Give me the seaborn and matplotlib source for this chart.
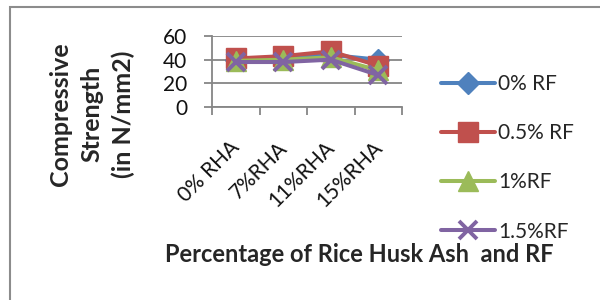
import matplotlib
matplotlib.use("Agg")
import matplotlib.pyplot as plt
import matplotlib.transforms as mtransforms
import seaborn as sns
import pandas as pd
from matplotlib.patches import Rectangle
from matplotlib.ticker import FixedLocator, NullFormatter

# Data
categories = ["0% RHA", "7%RHA", "11%RHA", "15%RHA"]
rf_0 = [40, 41, 44, 40]
rf_05 = [41, 43, 47, 35]
rf_1 = [39, 40, 42, 31]
rf_15 = [38, 38, 40, 27]
series_names = ["0% RF", "0.5% RF", "1%RF", "1.5%RF"]
series_values = [rf_0, rf_05, rf_1, rf_15]

colors = ["#4F81BD", "#C0504D", "#9BBB59", "#8064A2"]
markers = ["D", "s", "^", "x"]
msizes = [11, 14, 15, 13]

sns.set_style("white")
plt.rcParams["font.family"] = ["Lato", "DejaVu Sans"]

fig = plt.figure(figsize=(6, 3), dpi=100)
ax = fig.add_axes([212 / 600, 1 - 107 / 300, 190 / 600, 71 / 300])

for name, vals, c, m, ms in zip(series_names, series_values, colors, markers, msizes):
    df = pd.DataFrame({"cat": categories, "val": vals})
    sns.lineplot(data=df, x="cat", y="val", ax=ax, color=c, marker=m,
                 markersize=ms, mec=c, mfc=c, mew=2.8 if m == "x" else 1,
                 linewidth=2.9, label=name, sort=False)

ax.set_xlim(-0.5, 3.5)
ax.set_ylim(0, 60)
ax.set_yticks([0, 20, 40, 60])
ax.grid(axis="y", color="#868686", linewidth=1.3)
ax.set_axisbelow(True)

# category boundaries as major ticks, labels on minor ticks
ax.xaxis.set_major_locator(FixedLocator([-0.5, 0.5, 1.5, 2.5, 3.5]))
ax.xaxis.set_major_formatter(NullFormatter())
ax.xaxis.set_minor_locator(FixedLocator([0, 1, 2, 3]))
ax.set_xticklabels(categories, minor=True, rotation=45, ha="right",
                   fontsize=15, color="#111111")
ax.tick_params(axis="x", which="major", length=6, width=1.3, color="#868686",
               direction="out", bottom=True)
ax.tick_params(axis="x", which="minor", length=0, pad=22, bottom=True)
ax.tick_params(axis="y", length=6, width=1.3, color="#868686", direction="out",
               left=True, labelsize=15, pad=12, labelcolor="#111111")
shift = mtransforms.ScaledTranslation(8 / 100, 0, fig.dpi_scale_trans)
for lbl in ax.get_xticklabels(minor=True):
    lbl.set_transform(lbl.get_transform() + shift)

for s in ["top", "right"]:
    ax.spines[s].set_visible(False)
for s in ["left", "bottom"]:
    ax.spines[s].set_color("#868686")
    ax.spines[s].set_linewidth(1.3)
ax.set_xlabel("")
ax.set_ylabel("")

handles, labels = ax.get_legend_handles_labels()
ax.legend_.remove()
fig.legend(handles, labels, loc="upper left", bbox_to_anchor=(441 / 600, 1 - 74 / 300),
           frameon=False, fontsize=15, handlelength=2.6, handletextpad=0.15,
           labelspacing=1.4, borderpad=0, borderaxespad=0)

fig.text(92 / 600, 1 - 114 / 300, "Compressive\nStrength\n(in N/mm2)", rotation=90,
         ha="center", va="center", multialignment="center", fontsize=18,
         fontweight="bold", linespacing=1.45)
fig.text(359 / 600, 1 - 255 / 300, "Percentage of Rice Husk Ash  and RF",
         ha="center", va="center", fontsize=17, fontweight="bold")

fig.patches.append(Rectangle((10 / 600, -0.1), 1.0, 1 - 7 / 300 + 0.1,
                             transform=fig.transFigure, fill=False,
                             edgecolor="#8c8c8c", linewidth=1.5))

fig.savefig("out.png", dpi=100)
